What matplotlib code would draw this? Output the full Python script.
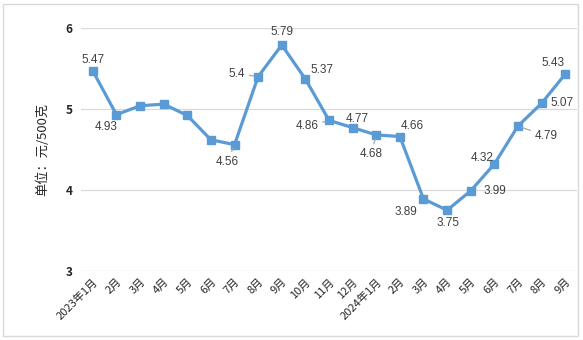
import matplotlib.pyplot as plt
from matplotlib.patches import Rectangle

plt.rcParams['font.family'] = ['Noto Sans CJK SC', 'DejaVu Sans']

# monthly price, yuan per 500 g
months = ['2023年1月', '2月', '3月', '4月', '5月', '6月', '7月', '8月', '9月', '10月',
          '11月', '12月', '2024年1月', '2月', '3月', '4月', '5月', '6月', '7月', '8月', '9月']
prices = [5.47, 4.93, 5.04, 5.06, 4.92, 4.62, 4.56, 5.40, 5.79, 5.37,
          4.86, 4.77, 4.68, 4.66, 3.89, 3.75, 3.99, 4.32, 4.79, 5.07, 5.43]
# which points carry a value label, the label offset in pixels, and whether it has a leader line
label_offsets = {0: (0, 11, False), 1: (-10, -12, False), 6: (-7, -17, True),
                 7: (-21, 3, True), 8: (0, 13, False), 9: (17, 9, False),
                 10: (-22, -6, True), 11: (5, 9, False), 12: (-5, -19, True),
                 13: (12, 11, False), 14: (-18, -13, False), 15: (1, -13, False),
                 16: (24, 0, False), 17: (-12, 6, False), 18: (28, -10, True),
                 19: (20, 0, False), 20: (-12, 11, False)}

blue = '#5B9BD5'
grid = '#D9D9D9'
text_col = '#404040'

fig = plt.figure(figsize=(5.83, 3.40), dpi=100)
ax = fig.add_axes([81 / 583, 1 - 271 / 340, 496 / 583, 243 / 340])

x = list(range(len(months)))
ax.plot(x, prices, color=blue, lw=2.3, marker='s', ms=5.8, zorder=3)

for i, (dx, dy, leader) in label_offsets.items():
    kw = {}
    if leader:
        kw['arrowprops'] = dict(arrowstyle='-', color='#A6A6A6', lw=0.9, shrinkA=1, shrinkB=3)
    ax.annotate(f'{prices[i]:g}', (i, prices[i]), xytext=(dx * 0.72, dy * 0.72),
                textcoords='offset points', ha='center', va='center',
                fontsize=8.5, color=text_col, family='Liberation Sans', **kw)

ax.set_xlim(-0.5, len(months) - 0.5)
ax.set_ylim(3, 6)
ax.set_yticks([3, 4, 5, 6])
ax.yaxis.grid(True, color=grid, lw=0.9)
ax.set_axisbelow(True)
for s in ax.spines.values():
    s.set_visible(False)
ax.tick_params(length=0)
ax.tick_params(axis='y', pad=6, labelsize=8.5, labelcolor='#262626')
for t in ax.get_yticklabels():
    t.set_fontweight('bold')
ax.set_xticks(x)
ax.set_xticklabels(months, rotation=45, ha='right', rotation_mode='anchor',
                   fontsize=8, color='#262626')
ax.tick_params(axis='x', pad=4)
ax.set_ylabel('单位：元/500克', fontsize=9.5, color='#262626', labelpad=12)

fig.patches.append(Rectangle((3 / 583, 4 / 340), 575 / 583, 332 / 340,
                             transform=fig.transFigure, fill=False,
                             edgecolor=grid, lw=1))

fig.savefig('out.png', dpi=100)
